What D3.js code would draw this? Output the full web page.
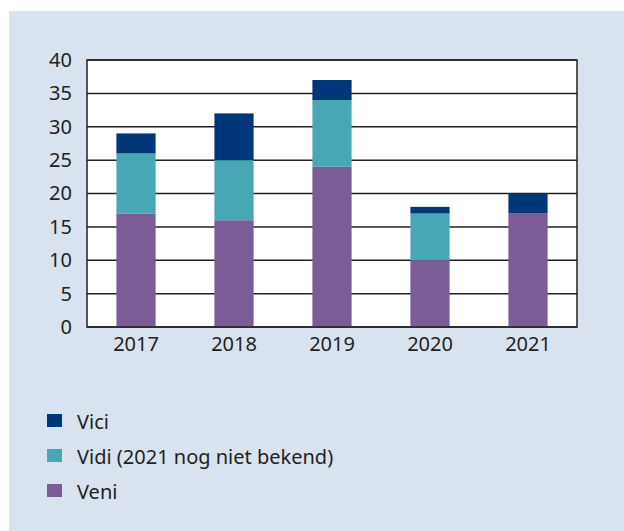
<!DOCTYPE html>
<html>
<head>
    <style>
        body { margin: 0; background: #fff; }
        text { font-family: "Noto Sans", sans-serif; fill: #222; }
    </style>
    <script src="https://d3js.org/d3.v7.min.js"></script>
</head>
<body>
<svg id="chart" width="624" height="531"></svg>
<script>
    var years = ["2017", "2018", "2019", "2020", "2021"];
    var veni = [17, 16, 24, 10, 17];
    var vidi = [9, 9, 10, 7, 0];
    var vici = [3, 7, 3, 1, 3];
    var yTicks = [0, 5, 10, 15, 20, 25, 30, 35, 40];
    var seriesNames = ["Vici", "Vidi (2021 nog niet bekend)", "Veni"];
    var colors = {veni: "#7b5c96", vidi: "#48a7b5", vici: "#003778"};

    var svg = d3.select("#chart");
    svg.append("rect").attr("x", 9).attr("y", 11).attr("width", 615).attr("height", 520).attr("fill", "#d9e3ef");

    var plotLeft = 87, plotRight = 577, plotTop = 60, plotBottom = 327;

    var x = d3.scaleBand().domain(years).range([plotLeft, plotRight]).paddingInner(0.6).paddingOuter(0.3);
    var y = d3.scaleLinear().domain([0, 40]).range([plotBottom, plotTop]);

    // plot background
    svg.append("rect").attr("x", plotLeft).attr("y", plotTop)
        .attr("width", plotRight - plotLeft).attr("height", plotBottom - plotTop).attr("fill", "#fff");

    // gridlines
    svg.append("g").selectAll("line").data(yTicks).join("line")
        .attr("x1", plotLeft).attr("x2", plotRight)
        .attr("y1", d => y(d)).attr("y2", d => y(d))
        .attr("stroke", "#222").attr("stroke-width", 1.5);

    // stacked bars
    var rows = years.map((yr, i) => ({year: yr, veni: veni[i], vidi: vidi[i], vici: vici[i]}));
    var stack = d3.stack().keys(["veni", "vidi", "vici"])(rows);
    svg.append("g").selectAll("g").data(stack).join("g")
        .attr("fill", d => colors[d.key])
        .selectAll("rect").data(d => d).join("rect")
        .attr("x", d => x(d.data.year))
        .attr("width", x.bandwidth())
        .attr("y", d => y(d[1]))
        .attr("height", d => y(d[0]) - y(d[1]));

    // frame
    svg.append("rect").attr("x", plotLeft).attr("y", plotTop)
        .attr("width", plotRight - plotLeft).attr("height", plotBottom - plotTop)
        .attr("fill", "none").attr("stroke", "#222").attr("stroke-width", 1.5);

    // y axis labels
    var yAxis = svg.append("g").attr("transform", "translate(" + plotLeft + ",0)")
        .call(d3.axisLeft(y).tickValues(yTicks).tickSize(0).tickPadding(15));
    yAxis.select(".domain").remove();
    yAxis.selectAll("text").style("font-size", "20px").attr("fill", "#222");

    // x axis labels
    var xAxis = svg.append("g").attr("transform", "translate(0," + plotBottom + ")")
        .call(d3.axisBottom(x).tickSize(0).tickPadding(10));
    xAxis.select(".domain").remove();
    xAxis.selectAll("text").style("font-size", "20px").attr("fill", "#222");

    // legend
    var legendColors = [colors.vici, colors.vidi, colors.veni];
    var legend = svg.append("g").selectAll("g").data(seriesNames).join("g")
        .attr("transform", (d, i) => "translate(47," + (414 + i * 35) + ")");
    legend.append("rect").attr("width", 15).attr("height", 13).attr("fill", (d, i) => legendColors[i]);
    legend.append("text").attr("x", 30).attr("y", 7).attr("dominant-baseline", "central")
        .style("font-size", "20px").text(d => d);
</script>
</body>
</html>
